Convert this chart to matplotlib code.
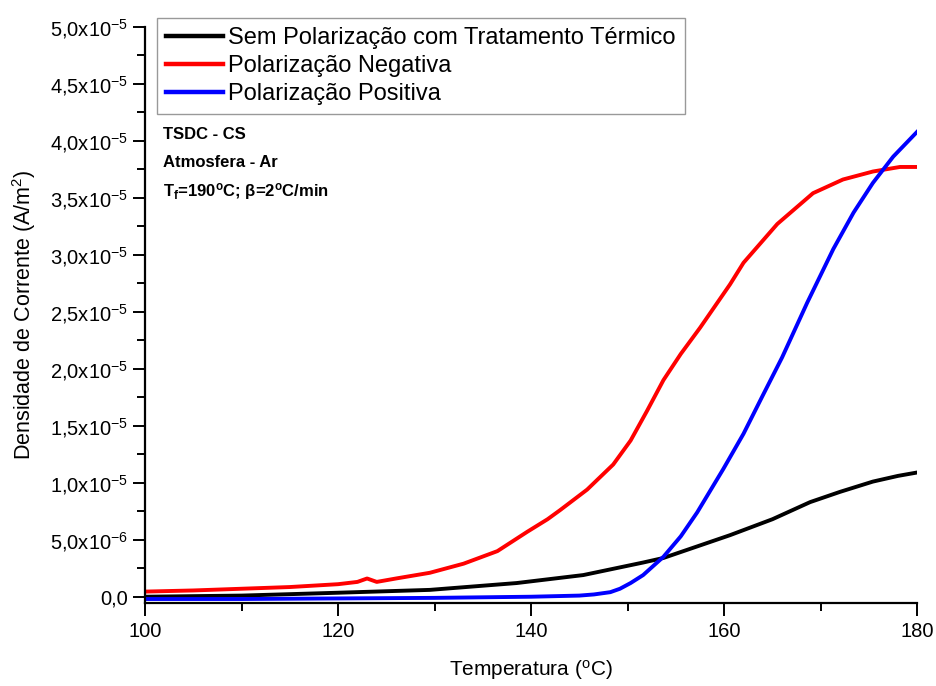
import matplotlib
matplotlib.use("Agg")
import matplotlib.pyplot as plt
from matplotlib.ticker import FuncFormatter, MultipleLocator

plt.rcParams['font.family'] = ['Liberation Sans', 'DejaVu Sans']
plt.rcParams['mathtext.fontset'] = 'custom'
plt.rcParams['mathtext.rm'] = 'Liberation Sans'
plt.rcParams['mathtext.it'] = 'Liberation Sans:italic'
plt.rcParams['mathtext.bf'] = 'Liberation Sans:bold'

# dados (densidade em 1e-6 A/m2)
t_sem = [100, 110, 120, 129.5, 138.5, 145.4, 151.6, 153.7, 160.6, 165, 168.9, 172, 175.4, 178, 180]
j_sem = [0.0, 0.1, 0.35, 0.6, 1.2, 1.9, 3.0, 3.4, 5.4, 6.8, 8.3, 9.2, 10.1, 10.6, 10.9]

t_neg = [100, 105, 110, 115, 120, 122, 123, 124, 126, 129.5, 133, 136.5, 139.6, 141.7, 143,
         145.8, 148.5, 150.3, 152, 153.7, 155.5, 157.5, 160.6, 162, 165.5, 169.2, 172.3,
         175.4, 178.2, 180]
j_neg = [0.45, 0.55, 0.7, 0.85, 1.1, 1.3, 1.6, 1.3, 1.6, 2.1, 2.9, 4.0, 5.7, 6.8, 7.6,
         9.4, 11.6, 13.7, 16.3, 19.0, 21.3, 23.6, 27.4, 29.3, 32.7, 35.4, 36.6,
         37.3, 37.7, 37.7]

t_pos = [100, 110, 120, 130, 140, 145, 146.5, 148.2, 149.2, 150.3, 151.6, 153.7, 155.5, 157.2,
         159.9, 162, 163.9, 166, 168.6, 171.3, 173.4, 175.4, 177.5, 180]
j_pos = [-0.2, -0.2, -0.15, -0.1, 0.0, 0.1, 0.2, 0.4, 0.7, 1.2, 1.9, 3.5, 5.3, 7.4,
         11.2, 14.3, 17.5, 21.0, 25.8, 30.5, 33.7, 36.3, 38.6, 40.8]

labels = ["Sem Polarização com Tratamento Térmico", "Polarização Negativa", "Polarização Positiva"]
cores = ["black", "red", "blue"]

fig = plt.figure(figsize=(9.36, 6.86), dpi=100)
ax = fig.add_axes([0.155, 0.121, 0.825, 0.84])

for t, j, lab, c in zip([t_sem, t_neg, t_pos], [j_sem, j_neg, j_pos], labels, cores):
    ax.plot(t, [v * 1e-6 for v in j], color=c, lw=2.8, label=lab,
            solid_joinstyle="round")

ax.set_xlim(100, 180)
ax.set_ylim(-5.5e-7, 5.0e-5)
ax.xaxis.set_major_locator(MultipleLocator(20))
ax.xaxis.set_minor_locator(MultipleLocator(10))
ax.yaxis.set_major_locator(MultipleLocator(5e-6))
ax.yaxis.set_minor_locator(MultipleLocator(2.5e-6))


def fmt(v, pos):
    if abs(v) < 1e-12:
        return "0,0"
    e = int(f"{v:e}".split("e")[1])
    m = v / 10 ** e
    return (f"{m:.1f}".replace(".", ",") + "x10" + r"$^{" + str(e) + "}$")


ax.yaxis.set_major_formatter(FuncFormatter(fmt))

for s in ["top", "right"]:
    ax.spines[s].set_visible(False)
for s in ["left", "bottom"]:
    ax.spines[s].set_linewidth(1.6)
ax.tick_params(which="major", direction="out", length=9, width=1.4, labelsize=14.5)
ax.tick_params(which="minor", direction="out", length=6, width=1.4)
ax.tick_params(axis="x", pad=5)

ax.set_xlabel(r"Temperatura ($\mathregular{^{o}}$C)", fontsize=15, labelpad=12)
ax.set_ylabel(r"Densidade de Corrente (A/m$\mathregular{^{2}}$)", fontsize=15.5, labelpad=8)

leg = ax.legend(loc="upper left", bbox_to_anchor=(0.0155, 1.0156), fontsize=17,
                frameon=True, fancybox=False, handlelength=2.4, handletextpad=0.2,
                borderpad=0.4, labelspacing=0.25, borderaxespad=0)
leg.get_frame().set_edgecolor("#808080")
leg.get_frame().set_linewidth(1.0)
for h in leg.get_lines():
    h.set_linewidth(3.2)

ax.text(0.023, 0.8125, "TSDC - CS", transform=ax.transAxes, fontsize=12,
        fontweight="bold", va="center")
ax.text(0.023, 0.764, "Atmosfera - Ar", transform=ax.transAxes, fontsize=12,
        fontweight="bold", va="center")
ax.text(0.023, 0.7135, r"T$\mathregular{_{f}}$=190$\mathregular{^{o}}$C; $\mathregular{\beta}$=2$\mathregular{^{o}}$C/min",
        transform=ax.transAxes, fontsize=12, fontweight="bold", va="center")

fig.savefig("out.png", dpi=100)
